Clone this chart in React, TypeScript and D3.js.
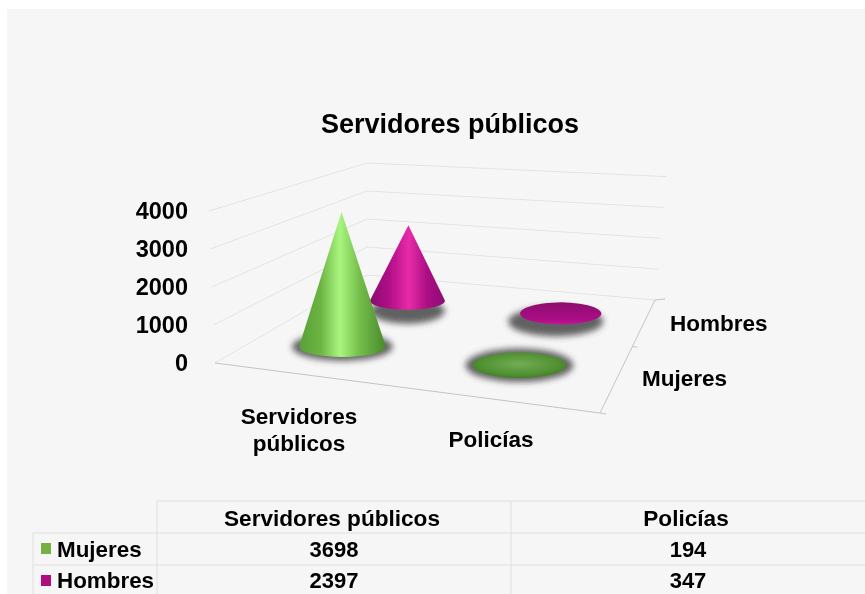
import React from "react";
import * as d3 from "d3";

const title = "Servidores públicos";
const categories = ["Servidores públicos", "Policías"];
const seriesNames = ["Mujeres", "Hombres"];
const mujeres = [3698, 194];
const hombres = [2397, 347];
const valueTicks = [0, 1000, 2000, 3000, 4000];
const seriesColors = ["#76b043", "#b0107f"];

const W = 865;
const H = 594;
const FL: [number, number] = [215, 363];
const FR: [number, number] = [600, 413];
const BR: [number, number] = [655, 300];
const BL: [number, number] = [367, 275];

// homography from the unit floor square to the picture
function makeProjection() {
  const [x0, y0] = FL, [x1, y1] = FR, [x2, y2] = BR, [x3, y3] = BL;
  const dx1 = x1 - x2, dx2 = x3 - x2, sx = x0 - x1 + x2 - x3;
  const dy1 = y1 - y2, dy2 = y3 - y2, sy = y0 - y1 + y2 - y3;
  const det = dx1 * dy2 - dx2 * dy1;
  const g = (sx * dy2 - dx2 * sy) / det;
  const h = (dx1 * sy - sx * dy1) / det;
  const a = x1 - x0 + g * x1, b = x3 - x0 + h * x3, c = x0;
  const d = y1 - y0 + g * y1, e = y3 - y0 + h * y3, f = y0;
  return (u: number, v: number): [number, number] => {
    const w = g * u + h * v + 1;
    return [(a * u + b * v + c) / w, (d * u + e * v + f) / w];
  };
}
const project = makeProjection();

const uScale = d3.scaleBand<string>().domain(categories).range([0, 1]);
const vScale = d3.scaleBand<string>().domain(seriesNames).range([0, 1]);
const pxPerThousand = d3.scaleLinear().domain([275, 363]).range([28, 38]);

function lift(p: [number, number], value: number): [number, number] {
  const flare = 0.04 * (value / 4000) * (p[0] - BL[0]);
  return [p[0] + flare, p[1] - (pxPerThousand(p[1]) * value) / 1000];
}

const gridLine = d3.line<[number, number]>();

type Cone = { key: string; value: number; u: number; v: number; row: number; col: number };
const cones: Cone[] = [];
seriesNames.slice().reverse().forEach((s) => {
  const row = seriesNames.indexOf(s);
  const vals = row === 0 ? mujeres : hombres;
  categories.forEach((c, col) => {
    cones.push({
      key: `${s}-${c}`,
      value: vals[col],
      u: (uScale(c) as number) + uScale.bandwidth() / 2,
      v: (vScale(s) as number) + vScale.bandwidth() / 2,
      row,
      col,
    });
  });
});

function conePath(cx: number, cy: number, rx: number, ry: number, ax: number, ay: number) {
  const px = (ax - cx) / rx, py = (ay - cy) / ry;
  const dist = Math.hypot(px, py);
  const full = `M${cx - rx},${cy}A${rx},${ry} 0 1 0 ${cx + rx},${cy}A${rx},${ry} 0 1 0 ${cx - rx},${cy}Z`;
  if (dist <= 1) return full;
  const phi = Math.atan2(py, px), alpha = Math.acos(1 / dist);
  const t1 = [cx + rx * Math.cos(phi - alpha), cy + ry * Math.sin(phi - alpha)];
  const t2 = [cx + rx * Math.cos(phi + alpha), cy + ry * Math.sin(phi + alpha)];
  return `M${ax},${ay}L${t2[0]},${t2[1]}A${rx},${ry} 0 1 1 ${t1[0]},${t1[1]}Z`;
}

const font = "'Liberation Sans', Arial, sans-serif";
const gridColor = "#e3e3e3";
const edgeColor = "#c4c4c4";

const tableX = [33, 157, 511, 865];
const tableY = [501, 533, 565, 594];

export default function App() {
  const floorTicks: [number, number][][] = [
    [FR, [FR[0] + 6, FR[1] + 1]],
    [project(1, 0.5), [project(1, 0.5)[0] + 5, project(1, 0.5)[1] + 0.5]],
    [BR, [BR[0] + 10, BR[1] - 1]],
  ];
  return (
    <svg
      width={W}
      height={H}
      viewBox={`0 0 ${W} ${H}`}
      style={{ position: "fixed", left: 0, top: 0, display: "block", background: "#fff" }}
    >
      <defs>
        <filter id="soft" x="-5%" y="-5%" width="110%" height="110%">
          <feGaussianBlur stdDeviation="0.45" />
        </filter>
        <filter id="shadow" x="-30%" y="-60%" width="160%" height="220%">
          <feGaussianBlur stdDeviation="3" />
        </filter>
        <linearGradient id="tall-0" x1="0" x2="1" y1="0" y2="0">
          <stop offset="0" stopColor="#5a9f36" />
          <stop offset="0.25" stopColor="#6cb544" />
          <stop offset="0.47" stopColor="#aaf580" />
          <stop offset="0.7" stopColor="#74bd4a" />
          <stop offset="1" stopColor="#4a8a2c" />
        </linearGradient>
        <linearGradient id="tall-1" x1="0" x2="1" y1="0" y2="0">
          <stop offset="0" stopColor="#8a0a70" />
          <stop offset="0.3" stopColor="#b8128c" />
          <stop offset="0.52" stopColor="#e82ca8" />
          <stop offset="0.75" stopColor="#ae1086" />
          <stop offset="1" stopColor="#8c0a72" />
        </linearGradient>
        <radialGradient id="flat-0" cx="0.5" cy="0.45" r="0.55">
          <stop offset="0" stopColor="#72ad54" />
          <stop offset="0.8" stopColor="#4f8f30" />
          <stop offset="1" stopColor="#447f28" />
        </radialGradient>
        <linearGradient id="flat-1" x1="0" x2="0" y1="0" y2="1">
          <stop offset="0" stopColor="#8c0a6e" />
          <stop offset="0.7" stopColor="#a80c84" />
          <stop offset="1" stopColor="#c01496" />
        </linearGradient>
      </defs>
      <rect x={7} y={9} width={W - 7} height={H - 9} fill="#f6f6f6" />
      <g filter="url(#soft)">
        <g fill="none" stroke={gridColor} strokeWidth={1}>
          {valueTicks.map((t) => (
            <path key={t} d={gridLine([lift(FL, t), lift(BL, t), lift(BR, t)]) as string} />
          ))}
        </g>
        <g fill="none" stroke={edgeColor} strokeWidth={1}>
          <path d={gridLine([BR, FR, FL]) as string} />
          {floorTicks.map((t, i) => (
            <path key={i} d={gridLine(t) as string} />
          ))}
        </g>

        {cones.map((c) => {
          const [bx, by0] = project(c.u, c.v);
          const by = by0 + (c.col === 0 ? 2 : 0);
          const width = 385 - c.v * 97;
          const rx = width * (0.115 + 0.02 * c.u);
          const ry = rx * (c.col === 0 ? 0.235 : 0.27);
          const [ax, ay] = lift([bx, by0], c.value);
          const tall = c.value > 1000;
          const hidden = c.row === 1 && c.col === 0;
          const sdx = c.row === 1 && c.col === 1 ? -5 : 0;
          const sdy = c.row === 1 ? (hidden ? 10 : 8) : 0;
          const grow = hidden ? 0 : 7;
          return (
            <g key={c.key}>
              <ellipse
                cx={bx + sdx}
                cy={by + sdy}
                rx={rx + grow}
                ry={ry + 4}
                fill="#3c3c3c"
                opacity={0.8}
                filter="url(#shadow)"
              />
              <path
                d={conePath(bx, by, rx, ry, ax, ay)}
                fill={`url(#${tall ? "tall" : "flat"}-${c.row})`}
              />
            </g>
          );
        })}

        <g fontFamily={font} fontWeight={700} fill="#000">
          <text x={450} y={133} textAnchor="middle" fontSize={27}>{title}</text>
          {valueTicks.map((t) => (
            <text key={t} x={188} y={lift(FL, t)[1] + 8} textAnchor="end" fontSize={23.5}>{t}</text>
          ))}
          <text x={299} y={424} textAnchor="middle" fontSize={22.5}>Servidores</text>
          <text x={299} y={451} textAnchor="middle" fontSize={22.5}>públicos</text>
          <text x={491} y={447} textAnchor="middle" fontSize={22.5}>{categories[1]}</text>
          <text x={642} y={386} fontSize={22.5}>{seriesNames[0]}</text>
          <text x={670} y={331} fontSize={22.5}>{seriesNames[1]}</text>
        </g>

        <g fill="none" stroke="#dedede" strokeWidth={1}>
          <path d={`M${tableX[1]},${tableY[1]}V${tableY[0]}H${tableX[3]}`} />
          <path d={`M${tableX[0]},${tableY[3]}V${tableY[1]}H${tableX[3]}`} />
          <path d={`M${tableX[0]},${tableY[2]}H${tableX[3]}`} />
          <path d={`M${tableX[1]},${tableY[1]}V${tableY[3]}`} />
          <path d={`M${tableX[2]},${tableY[0]}V${tableY[3]}`} />
        </g>
        <g fontFamily={font} fontWeight={700} fontSize={22} fill="#000" textAnchor="middle">
          {categories.map((c, i) => (
            <text key={c} x={(tableX[i + 1] + tableX[i + 2]) / 2 - 2} y={526} fontSize={22.6}>{c}</text>
          ))}
          {mujeres.map((v, i) => (
            <text key={i} x={(tableX[i + 1] + tableX[i + 2]) / 2} y={557}>{v}</text>
          ))}
          {hombres.map((v, i) => (
            <text key={i} x={(tableX[i + 1] + tableX[i + 2]) / 2} y={588}>{v}</text>
          ))}
        </g>
        {seriesNames.map((s, i) => (
          <g key={s}>
            <rect x={41} y={543 + i * 32} width={10} height={11} fill={seriesColors[i]} />
            <text x={57} y={557 + i * 31} fontFamily={font} fontWeight={700} fontSize={22.4}>{s}</text>
          </g>
        ))}
      </g>
    </svg>
  );
}
